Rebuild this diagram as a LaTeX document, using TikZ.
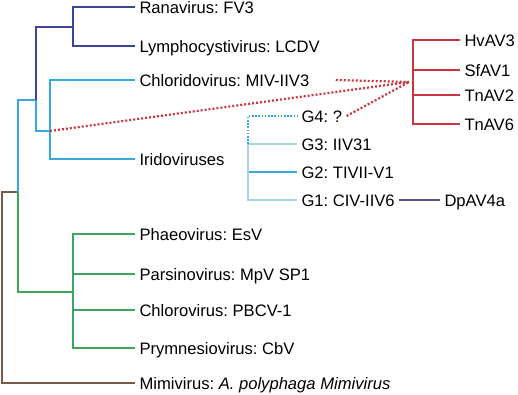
\documentclass[tikz,border=0pt]{standalone}
\usepackage{fontspec}
\setmainfont{Liberation Sans}
\frenchspacing
\definecolor{navyc}{RGB}{62,68,150}
\definecolor{cyanc}{RGB}{52,170,220}
\definecolor{lightc}{RGB}{168,212,232}
\definecolor{greenc}{RGB}{60,166,90}
\definecolor{brownc}{RGB}{122,90,75}
\definecolor{redc}{RGB}{200,55,65}
\definecolor{purplec}{RGB}{90,78,150}
\begin{document}
\begin{tikzpicture}[x=1pt,y=-1pt,
  leaf/.style={anchor=west,inner sep=0pt,outer xsep=4.5pt,text height=13pt,text depth=0pt,
    font=\fontsize{16.6}{19}\selectfont\frenchspacing},
  br/.style={line width=2.3pt,line join=miter},
  reddot/.style={redc,line width=2.2pt,dash pattern=on 2pt off 2pt},
  cyandot/.style={cyanc,line width=2pt,dash pattern=on 1.6pt off 1.6pt}]
\useasboundingbox (0,0) rectangle (518,395);
% internal coordinates
\coordinate (root) at (2,192);
\coordinate (ngreen) at (73,292);
\coordinate (nirid) at (36,100);
\coordinate (nnavy) at (73,27);
\coordinate (ncyan) at (50,131);
\coordinate (nred) at (413,82);
\coordinate (redtip) at (409,82);
\coordinate (gbase) at (248,144);
% leaves
\node[leaf] (ran) at (135,7) {Ranavirus: FV3};
\node[leaf] (lym) at (135,46) {Lymphocystivirus: LCDV};
\node[leaf] (chl) at (135,80) {Chloridovirus: MIV-IIV3};
\node[leaf] (iri) at (135,159) {Iridoviruses};
\node[leaf] (pha) at (135,234) {Phaeovirus: EsV};
\node[leaf] (par) at (135,274) {Parsinovirus: MpV SP1};
\node[leaf] (clo) at (135,310) {Chlorovirus: PBCV-1};
\node[leaf] (pry) at (135,348) {Prymnesiovirus: CbV};
\node[leaf] (mim) at (135,383) {Mimivirus: \textit{A. polyphaga Mimivirus}};
\node[leaf] (hv) at (460,40) {HvAV3};
\node[leaf] (sf) at (460,70) {SfAV1};
\node[leaf] (tn2) at (460,95) {TnAV2};
\node[leaf] (tn6) at (460,124) {TnAV6};
\node[leaf] (g4) at (297,116) {G4: ?};
\node[leaf] (g3) at (297,144) {G3: IIV31};
\node[leaf] (g2) at (297,172) {G2: TIVII-V1};
\node[leaf] (g1) at (297,200) {G1: CIV-IIV6};
\node[leaf] (dp) at (440,200) {DpAV4a};
% brown
\draw[br,brownc] (mim.west) -| (root) -- (18,192);
% green
\draw[br,greenc] (18,192) |- (ngreen);
\draw[br,greenc] (pha.west) -| (73,348) -- (pry.west);
\draw[br,greenc] (par.west) -- (73,274);
\draw[br,greenc] (clo.west) -- (73,310);
% blue trunk
\draw[br,cyanc] (18,192) |- (nirid) -- (36,131) -- (ncyan);
\draw[br,cyanc] (chl.west) -| (50,159) -- (iri.west);
% navy
\draw[br,navyc] (nirid) |- (nnavy);
\draw[br,navyc] (ran.west) -| (73,46) -- (lym.west);
% red clade
\draw[br,redc] (hv.west) -| (413,124) -- (tn6.west);
\draw[br,redc] (sf.west) -- (413,70);
\draw[br,redc] (tn2.west) -- (413,95);
\draw[reddot] (ncyan) -- (redtip);
\draw[reddot] (chl.east) ++(22,0) -- (redtip);
\draw[reddot] (g4.east) -- (redtip);
% G clade
\draw[br,lightc] (g3.west) -| (gbase) |- (g1.west);
\draw[br,cyanc] (249,172) -- (g2.west);
\draw[cyandot] (gbase) |- (g4.west);
\draw[br,purplec] (g1.east) -- (dp.west);
\end{tikzpicture}
\end{document}
